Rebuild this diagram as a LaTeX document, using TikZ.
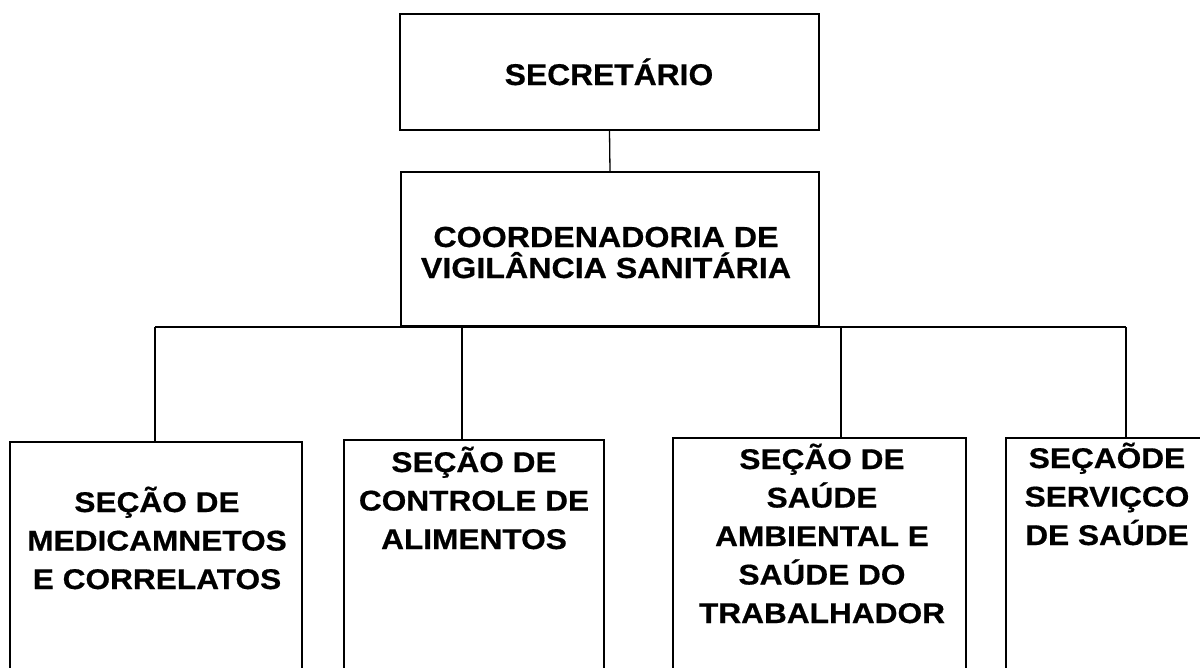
\documentclass[tikz,border=0pt]{standalone}
\usepackage{fontspec}
\setmainfont{Liberation Sans}
\newfontfamily\wideb[FakeStretch=1.11,FakeBold=0.6]{Liberation Sans Bold}
\newfontfamily\widec[FakeStretch=1.06,FakeBold=0.6]{Liberation Sans Bold}
\begin{document}
\begin{tikzpicture}[x=1pt,y=-1pt,
  box/.style={draw, line width=1.3pt, rectangle, inner sep=0pt},
  conn/.style={line width=1.3pt},
  lbl/.style={font={\wideb\fontsize{28.5}{38.5}\selectfont}, align=center, anchor=base, inner sep=0pt},
  lblc/.style={font={\wideb\fontsize{29}{31}\selectfont}, align=center, anchor=base, inner sep=0pt},
  lbls/.style={font={\widec\fontsize{30}{31}\selectfont}, align=center, anchor=base, inner sep=0pt}
]
\useasboundingbox (0,0) rectangle (1200,667);
\clip (0,0) rectangle (1200,667);
% boxes
\node[box, minimum width=419pt, minimum height=116pt] (sec) at (609.5,72) {};
\node[box, minimum width=418pt, minimum height=154pt] (coord) at (610,249) {};
\node[box, minimum width=292pt, minimum height=233pt] (b1) at (156,558.5) {};
\node[box, minimum width=260pt, minimum height=235pt] (b2) at (474,557.5) {};
\node[box, minimum width=293pt, minimum height=237pt] (b3) at (819.5,556.5) {};
\node[box, minimum width=204pt, minimum height=237pt] (b4) at (1108,556.5) {};
% texts (base = baseline of the last line)
\node[lbls] (t0) at (609,85) {SECRETÁRIO};
\node[lblc] (t1) at (606,278) {COORDENADORIA DE\\VIGILÂNCIA SANITÁRIA};
\node[lbl] (t2) at (157,589) {SEÇÃO DE\\MEDICAMNETOS\\E CORRELATOS};
\node[lbl] (t3) at (474,549) {SEÇÃO DE\\CONTROLE DE\\ALIMENTOS};
\node[lbl] (t4) at (822,623) {SEÇÃO DE\\SAÚDE\\AMBIENTAL E\\SAÚDE DO\\TRABALHADOR};
\node[lbl] (t5) at (1107,545) {SEÇAÕDE\\SERVIÇCO\\DE SAÚDE};
% connectors
\coordinate (j1) at (155,327);
\coordinate (j2) at (462,327);
\coordinate (j3) at (841,327);
\coordinate (j4) at (1126,327);
\draw[conn] (sec.south) -- (coord.north);
\draw[conn] (j1) -- (j4);
\draw[conn] (j1) -- (j1 |- b1.north);
\draw[conn] (j2) -- (j2 |- b2.north);
\draw[conn] (j3) -- (j3 |- b3.north);
\draw[conn] (j4) -- (j4 |- b4.north);
\end{tikzpicture}
\end{document}
